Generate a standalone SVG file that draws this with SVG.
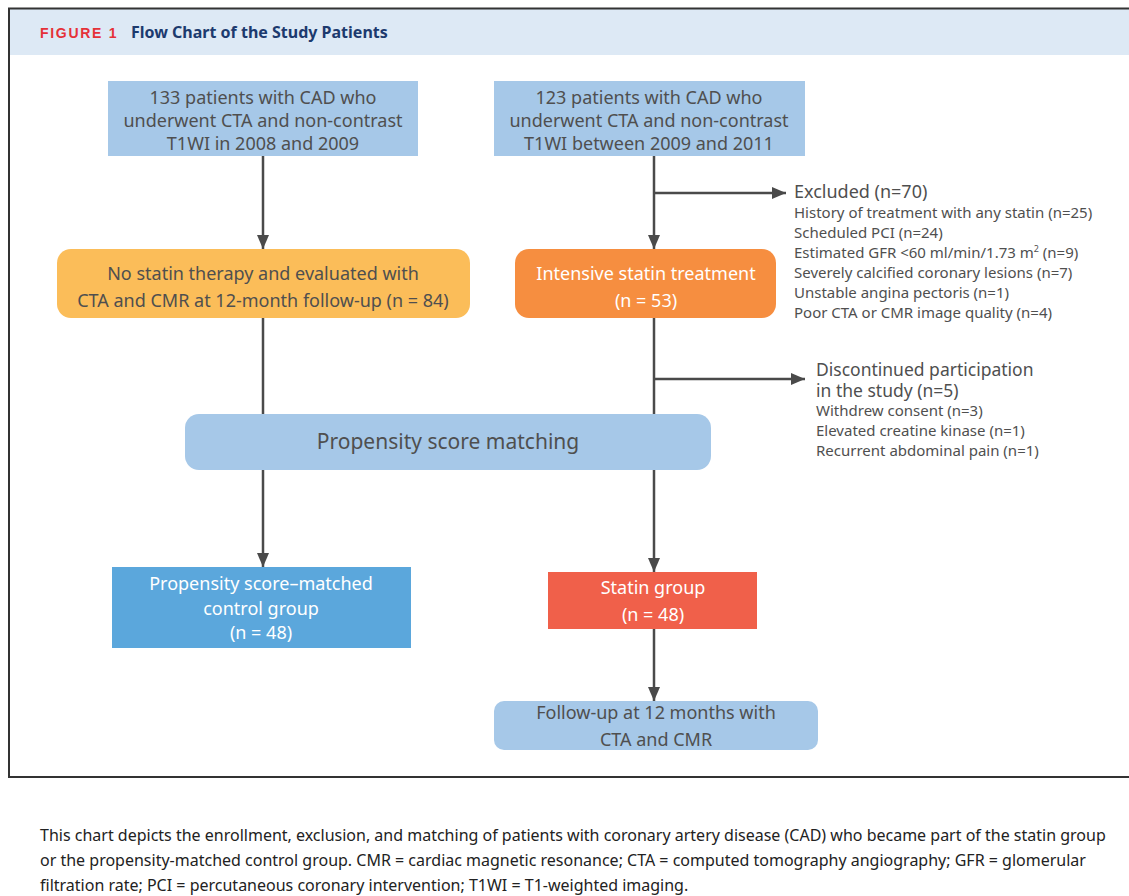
<svg xmlns="http://www.w3.org/2000/svg" width="1129" height="896" viewBox="0 0 1129 896">
<defs>
<marker id="ahv" viewBox="0 0 14 12" refX="14" refY="6" markerWidth="14" markerHeight="12" markerUnits="userSpaceOnUse" orient="auto">
<path d="M0,0 L14,6 L0,12 Z" fill="#4a4a4a"/>
</marker>
<style>
.t{font-family:"Noto Sans","Open Sans",sans-serif;fill:#4f4f4f;}
.w{font-family:"Noto Sans","Open Sans",sans-serif;fill:#ffffff;}
.c{text-anchor:middle;font-size:18px;}
.sm{font-size:15px;}
.md{font-size:17.5px;}
.ln{stroke:#4a4a4a;stroke-width:2.5;fill:none;}
.cap{font-family:"Noto Sans","Open Sans",sans-serif;fill:#222;font-size:16px;}
</style>
</defs>
<rect x="0" y="0" width="1129" height="896" fill="#ffffff"/>
<g id="frame">
<rect x="9" y="9" width="1125" height="46" fill="#dde9f5"/>
<line x1="8" y1="8.5" x2="1129" y2="8.5" stroke="#333" stroke-width="2"/>
<line x1="9" y1="8" x2="9" y2="778" stroke="#333" stroke-width="2"/>
<line x1="8" y1="777" x2="1129" y2="777" stroke="#333" stroke-width="2"/>
<text x="40" y="38" font-family="Liberation Sans, Arial, sans-serif" font-weight="bold" font-size="14" fill="#e53138" letter-spacing="1.7">FIGURE 1</text>
<text x="131" y="38" font-family="Noto Sans, Open Sans, sans-serif" font-weight="bold" font-size="16" fill="#1c3a6e">Flow Chart of the Study Patients</text>
</g>
<g id="connectors">
<line class="ln" x1="263" y1="156" x2="263" y2="249" marker-end="url(#ahv)"/>
<line class="ln" x1="654" y1="156" x2="654" y2="249" marker-end="url(#ahv)"/>
<line class="ln" x1="654" y1="193" x2="786" y2="193" marker-end="url(#ahv)"/>
<line class="ln" x1="263" y1="318" x2="263" y2="414"/>
<line class="ln" x1="654" y1="318" x2="654" y2="414"/>
<line class="ln" x1="654" y1="379" x2="805" y2="379" marker-end="url(#ahv)"/>
<line class="ln" x1="263" y1="470" x2="263" y2="567" marker-end="url(#ahv)"/>
<line class="ln" x1="654" y1="470" x2="654" y2="572" marker-end="url(#ahv)"/>
<line class="ln" x1="654" y1="629" x2="654" y2="701" marker-end="url(#ahv)"/>
</g>
<g id="n1">
<rect x="108" y="81" width="310" height="75" fill="#a6c8e8"/>
<text class="t c" x="263" y="104">133 patients with CAD who</text>
<text class="t c" x="263" y="127">underwent CTA and non-contrast</text>
<text class="t c" x="263" y="150">T1WI in 2008 and 2009</text>
</g>
<g id="n2">
<rect x="494" y="81" width="311" height="75" fill="#a6c8e8"/>
<text class="t c" x="649" y="104">123 patients with CAD who</text>
<text class="t c" x="649" y="127">underwent CTA and non-contrast</text>
<text class="t c" x="649" y="150">T1WI between 2009 and 2011</text>
</g>
<g id="n3">
<rect x="57" y="249" width="413" height="69" rx="14" fill="#fbbd59"/>
<text class="t c" x="263" y="280">No statin therapy and evaluated with</text>
<text class="t c" x="263" y="307">CTA and CMR at 12-month follow-up (n = 84)</text>
</g>
<g id="n4">
<rect x="515" y="249" width="261" height="69" rx="14" fill="#f68e40"/>
<text class="w c" x="646" y="280">Intensive statin treatment</text>
<text class="w c" x="646" y="307">(n = 53)</text>
</g>
<g id="excluded">
<text class="t" x="794" y="198" font-size="18">Excluded (n=70)</text>
<text class="t sm" x="794" y="218">History of treatment with any statin (n=25)</text>
<text class="t sm" x="794" y="238">Scheduled PCI (n=24)</text>
<text class="t sm" x="794" y="258">Estimated GFR &lt;60 ml/min/1.73 m<tspan font-size="9" dy="-6">2</tspan><tspan dy="6"> (n=9)</tspan></text>
<text class="t sm" x="794" y="278">Severely calcified coronary lesions (n=7)</text>
<text class="t sm" x="794" y="298">Unstable angina pectoris (n=1)</text>
<text class="t sm" x="794" y="318">Poor CTA or CMR image quality (n=4)</text>
</g>
<g id="discontinued">
<text class="t md" x="816" y="376"><tspan x="816" y="376">Discontinued participation</tspan><tspan x="816" y="397">in the study (n=5)</tspan></text>
<text class="t sm" x="816" y="416">Withdrew consent (n=3)</text>
<text class="t sm" x="816" y="436">Elevated creatine kinase (n=1)</text>
<text class="t sm" x="816" y="456">Recurrent abdominal pain (n=1)</text>
</g>
<g id="n5">
<rect x="185" y="414" width="526" height="56" rx="14" fill="#a6c8e8"/>
<text class="t" x="448" y="449" text-anchor="middle" font-size="21">Propensity score matching</text>
</g>
<g id="n6">
<rect x="112" y="567" width="299" height="81" fill="#5ba7dc"/>
<text class="w c" x="261" y="590">Propensity score–matched</text>
<text class="w c" x="261" y="615">control group</text>
<text class="w c" x="261" y="639">(n = 48)</text>
</g>
<g id="n7">
<rect x="548" y="572" width="209" height="57" fill="#f0604a"/>
<text class="w c" x="653" y="594">Statin group</text>
<text class="w c" x="653" y="621">(n = 48)</text>
</g>
<g id="n8">
<rect x="494" y="701" width="324" height="49" rx="10" fill="#a6c8e8"/>
<text class="t c" x="656" y="719">Follow-up at 12 months with</text>
<text class="t c" x="656" y="746">CTA and CMR</text>
</g>
<g id="caption">
<text class="cap" x="40" y="841">This chart depicts the enrollment, exclusion, and matching of patients with coronary artery disease (CAD) who became part of the statin group</text>
<text class="cap" x="40" y="866">or the propensity-matched control group. CMR = cardiac magnetic resonance; CTA = computed tomography angiography; GFR = glomerular</text>
<text class="cap" x="40" y="891">filtration rate; PCI = percutaneous coronary intervention; T1WI = T1-weighted imaging.</text>
</g>
</svg>
